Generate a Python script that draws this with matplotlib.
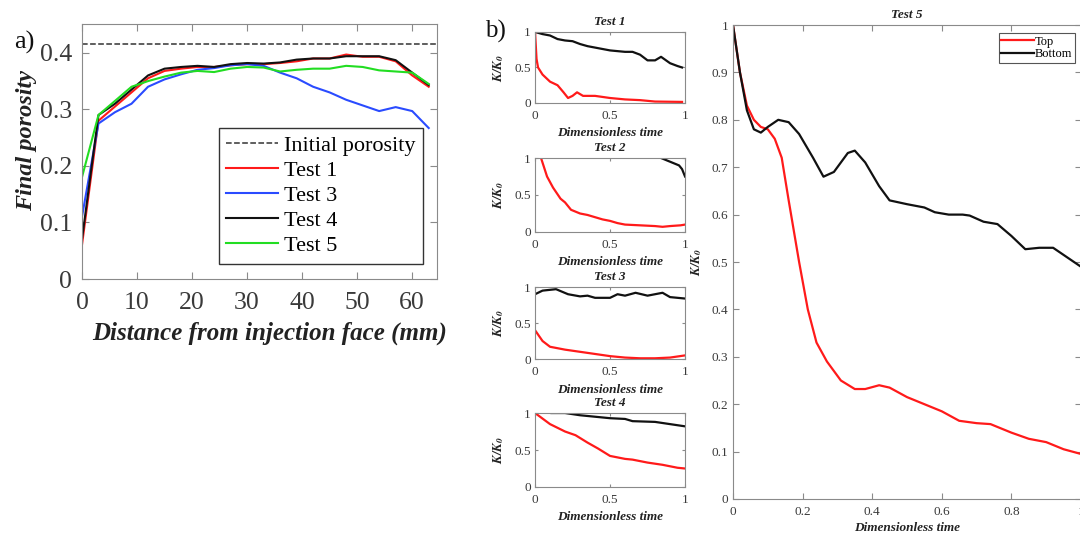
import numpy as np
import matplotlib
matplotlib.use('Agg')
import matplotlib.pyplot as plt

plt.rcParams['font.family'] = ['Liberation Serif', 'DejaVu Serif']
plt.rcParams['mathtext.fontset'] = 'stix'

# ---- panel a: final porosity vs distance ----
dist = [0, 3, 6, 9, 12, 15, 18, 21, 24, 27, 30, 33, 36, 39, 42, 45, 48, 51, 54, 57, 60, 63]
init_por = 0.416
test1 = [0.06, 0.28, 0.305, 0.33, 0.355, 0.368, 0.372, 0.375, 0.375, 0.378, 0.38, 0.38,
         0.382, 0.385, 0.39, 0.39, 0.397, 0.393, 0.393, 0.385, 0.36, 0.34]
test3 = [0.11, 0.275, 0.295, 0.31, 0.34, 0.353, 0.362, 0.37, 0.373, 0.378, 0.38, 0.377,
         0.365, 0.355, 0.34, 0.33, 0.317, 0.307, 0.297, 0.304, 0.297, 0.267]
test4 = [0.07, 0.29, 0.31, 0.335, 0.36, 0.372, 0.375, 0.377, 0.375, 0.38, 0.382, 0.381,
         0.383, 0.388, 0.39, 0.39, 0.394, 0.394, 0.394, 0.387, 0.365, 0.343]
test5 = [0.18, 0.29, 0.315, 0.34, 0.35, 0.358, 0.365, 0.368, 0.366, 0.372, 0.375, 0.374,
         0.367, 0.37, 0.372, 0.372, 0.377, 0.375, 0.369, 0.367, 0.365, 0.345]

# ---- panel b: K/K0 vs dimensionless time ----
t1_top_t = [0, 0.01, 0.02, 0.05, 0.1, 0.15, 0.19, 0.22, 0.25, 0.28, 0.32, 0.4, 0.5, 0.6, 0.7, 0.8, 0.98]
t1_top = [1.0, 0.62, 0.5, 0.4, 0.3, 0.25, 0.15, 0.07, 0.1, 0.15, 0.1, 0.1, 0.07, 0.05, 0.04, 0.02, 0.015]
t1_bot_t = [0, 0.05, 0.1, 0.15, 0.2, 0.25, 0.3, 0.35, 0.4, 0.45, 0.5, 0.55, 0.6, 0.65, 0.7,
            0.75, 0.8, 0.84, 0.9, 0.95, 0.98]
t1_bot = [1.0, 0.97, 0.95, 0.9, 0.88, 0.87, 0.83, 0.8, 0.78, 0.76, 0.74, 0.73, 0.72, 0.72, 0.68,
          0.6, 0.6, 0.65, 0.56, 0.52, 0.5]

t2_top_t = [0.04, 0.08, 0.12, 0.17, 0.2, 0.24, 0.3, 0.35, 0.4, 0.45, 0.5, 0.55, 0.6, 0.7, 0.8, 0.85, 0.9, 0.97, 1.0]
t2_top = [1.0, 0.75, 0.6, 0.45, 0.4, 0.3, 0.25, 0.23, 0.2, 0.17, 0.15, 0.12, 0.1, 0.09, 0.08, 0.07, 0.08, 0.09, 0.1]
t2_bot_t = [0.84, 0.9, 0.96, 0.98, 1.0]
t2_bot = [1.0, 0.95, 0.9, 0.85, 0.75]

t3_top_t = [0, 0.05, 0.1, 0.2, 0.3, 0.4, 0.5, 0.6, 0.7, 0.8, 0.9, 1.0]
t3_top = [0.4, 0.25, 0.17, 0.13, 0.1, 0.07, 0.04, 0.02, 0.01, 0.01, 0.02, 0.05]
t3_bot_t = [0, 0.05, 0.14, 0.22, 0.3, 0.35, 0.4, 0.5, 0.55, 0.6, 0.67, 0.75, 0.85, 0.9, 1.0]
t3_bot = [0.9, 0.95, 0.97, 0.9, 0.87, 0.88, 0.85, 0.85, 0.9, 0.88, 0.92, 0.88, 0.92, 0.86, 0.84]

t4_top_t = [0, 0.1, 0.2, 0.27, 0.35, 0.42, 0.5, 0.6, 0.65, 0.75, 0.85, 0.95, 1.0]
t4_top = [1.0, 0.85, 0.75, 0.7, 0.6, 0.52, 0.42, 0.38, 0.37, 0.33, 0.3, 0.26, 0.25]
t4_bot_t = [0.11, 0.2, 0.3, 0.4, 0.5, 0.6, 0.65, 0.8, 0.9, 1.0]
t4_bot = [1.0, 1.0, 0.97, 0.95, 0.93, 0.92, 0.89, 0.88, 0.85, 0.82]

t5_top_t = [0, 0.02, 0.04, 0.06, 0.08, 0.1, 0.12, 0.14, 0.16, 0.19, 0.215, 0.24, 0.27, 0.31,
            0.35, 0.38, 0.42, 0.45, 0.5, 0.55, 0.6, 0.65, 0.7, 0.74, 0.8, 0.85, 0.9, 0.95, 1.0]
t5_top = [1.0, 0.9, 0.83, 0.8, 0.785, 0.78, 0.76, 0.72, 0.63, 0.5, 0.4, 0.33, 0.29, 0.25,
          0.232, 0.232, 0.24, 0.235, 0.215, 0.2, 0.185, 0.165, 0.16, 0.158, 0.14, 0.127, 0.12, 0.105, 0.095]
t5_bot_t = [0, 0.02, 0.04, 0.06, 0.08, 0.1, 0.13, 0.16, 0.19, 0.23, 0.26, 0.29, 0.33, 0.35,
            0.38, 0.42, 0.45, 0.5, 0.55, 0.58, 0.62, 0.66, 0.68, 0.72, 0.76, 0.8, 0.84, 0.88,
            0.92, 0.96, 1.0]
t5_bot = [1.0, 0.9, 0.82, 0.78, 0.773, 0.785, 0.8, 0.795, 0.77, 0.72, 0.68, 0.69, 0.73, 0.735,
          0.71, 0.66, 0.63, 0.622, 0.615, 0.605, 0.6, 0.6, 0.598, 0.585, 0.58, 0.555, 0.527, 0.53,
          0.53, 0.51, 0.49]

AX_COL = '#8a8a8a'
TXT_COL = '#3a3a3a'


def style_axes(ax, size):
    for s in ax.spines.values():
        s.set_color(AX_COL)
    ax.tick_params(direction='in', top=True, right=True, colors=AX_COL,
                   labelcolor=TXT_COL, labelsize=size, length=3)


fig = plt.figure(figsize=(10.8, 5.38), dpi=100)

# panel a
ax = fig.add_axes([0.0759, 0.4814, 0.3287, 0.474])
ax.axhline(init_por, color='#333333', ls='--', lw=1.1, label='Initial porosity')
ax.plot(dist, test1, color='#ff1a1a', lw=1.5, label='Test 1')
ax.plot(dist, test3, color='#2a4bff', lw=1.5, label='Test 3')
ax.plot(dist, test4, color='#111111', lw=1.5, label='Test 4')
ax.plot(dist, test5, color='#22dd22', lw=1.5, label='Test 5')
ax.set_xlim(0, 64.5)
ax.set_ylim(0, 0.451)
ax.set_xticks([0, 10, 20, 30, 40, 50, 60])
ax.set_yticks([0, 0.1, 0.2, 0.3, 0.4])
ax.set_yticklabels(['0', '0.1', '0.2', '0.3', '0.4'])
style_axes(ax, 18.5)
ax.tick_params(length=5)
ax.tick_params(axis='x', pad=9)
ax.tick_params(axis='y', pad=7)
ax.set_xlabel('Distance from injection face (mm)', fontsize=18, fontweight='bold',
              fontstyle='italic', color='#222222')
ax.xaxis.set_label_coords(0.53, -0.165)
ax.set_ylabel('Final porosity', fontsize=17.5, fontweight='bold', fontstyle='italic',
              color='#222222')
ax.yaxis.set_label_coords(-0.127, 0.545)
leg = ax.legend(loc='lower right', bbox_to_anchor=(0.962, 0.059), fontsize=16,
                handlelength=2.3, labelspacing=0.2, borderpad=0.35, handletextpad=0.3,
                borderaxespad=0, fancybox=False, framealpha=1)
leg.get_frame().set_edgecolor('#333333')
leg.get_frame().set_linewidth(1.0)
fig.text(0.013, 0.91, 'a)', fontsize=19, color='#111111')
fig.text(0.449, 0.93, 'b)', fontsize=18, color='#111111')

# small panels
small = [
    ('Test 1', 0.8086, 0.132, t1_top_t, t1_top, t1_bot_t, t1_bot),
    ('Test 2', 0.5688, 0.1375, t2_top_t, t2_top, t2_bot_t, t2_bot),
    ('Test 3', 0.3327, 0.1338, t3_top_t, t3_top, t3_bot_t, t3_bot),
    ('Test 4', 0.0948, 0.1375, t4_top_t, t4_top, t4_bot_t, t4_bot),
]
for name, bot, h, tt, yt, tb, yb in small:
    sa = fig.add_axes([0.4954, bot, 0.1389, h])
    sa.plot(tb, yb, color='#111111', lw=1.6)
    sa.plot(tt, yt, color='#ff1a1a', lw=1.6)
    sa.set_xlim(0, 1)
    sa.set_ylim(0, 1)
    sa.set_xticks([0, 0.5, 1])
    sa.set_xticklabels(['0', '0.5', '1'])
    sa.set_yticks([0, 0.5, 1])
    sa.set_yticklabels(['0', '0.5', '1'])
    style_axes(sa, 9.5)
    sa.tick_params(length=2)
    sa.tick_params(axis='x', pad=5)
    sa.tick_params(axis='y', pad=3)
    sa.set_title(name, fontsize=9.5, fontweight='bold', fontstyle='italic', pad=5, color='#222222')
    sa.set_xlabel('Dimensionless time', fontsize=9.5, fontweight='bold', fontstyle='italic',
                  labelpad=4, color='#222222')
    sa.set_ylabel(r'$\mathbfit{K/K_0}$', fontsize=9.5, labelpad=6, color='#222222')

# big panel test 5
bx = fig.add_axes([0.6787, 0.0725, 0.3222, 0.881])
bx.plot(t5_top_t, t5_top, color='#ff1a1a', lw=1.6, label='Top')
bx.plot(t5_bot_t, t5_bot, color='#111111', lw=1.6, label='Bottom')
bx.set_xlim(0, 1)
bx.set_ylim(0, 1)
bx.set_xticks([0, 0.2, 0.4, 0.6, 0.8, 1.0])
bx.set_xticklabels(['0', '0.2', '0.4', '0.6', '0.8', '1'])
bx.set_yticks(np.arange(0, 1.01, 0.1))
bx.set_yticklabels(['0', '0.1', '0.2', '0.3', '0.4', '0.5', '0.6', '0.7', '0.8', '0.9', '1'])
style_axes(bx, 9.5)
bx.tick_params(length=4)
bx.tick_params(axis='x', pad=5)
bx.set_title('Test 5', fontsize=9.5, fontweight='bold', fontstyle='italic', pad=5, color='#222222')
bx.set_xlabel('Dimensionless time', fontsize=9.5, fontweight='bold', fontstyle='italic',
              labelpad=3, color='#222222')
bx.set_ylabel(r'$\mathbfit{K/K_0}$', fontsize=9.5, labelpad=5, color='#222222')
bl = bx.legend(loc='upper right', bbox_to_anchor=(0.982, 0.983), fontsize=9, handlelength=2.6,
               labelspacing=0.05, borderpad=0.2, handletextpad=0.1, borderaxespad=0,
               fancybox=False, framealpha=1)
bl.get_frame().set_edgecolor('#555555')
bl.get_frame().set_linewidth(0.8)

fig.savefig('out.png', dpi=100)
